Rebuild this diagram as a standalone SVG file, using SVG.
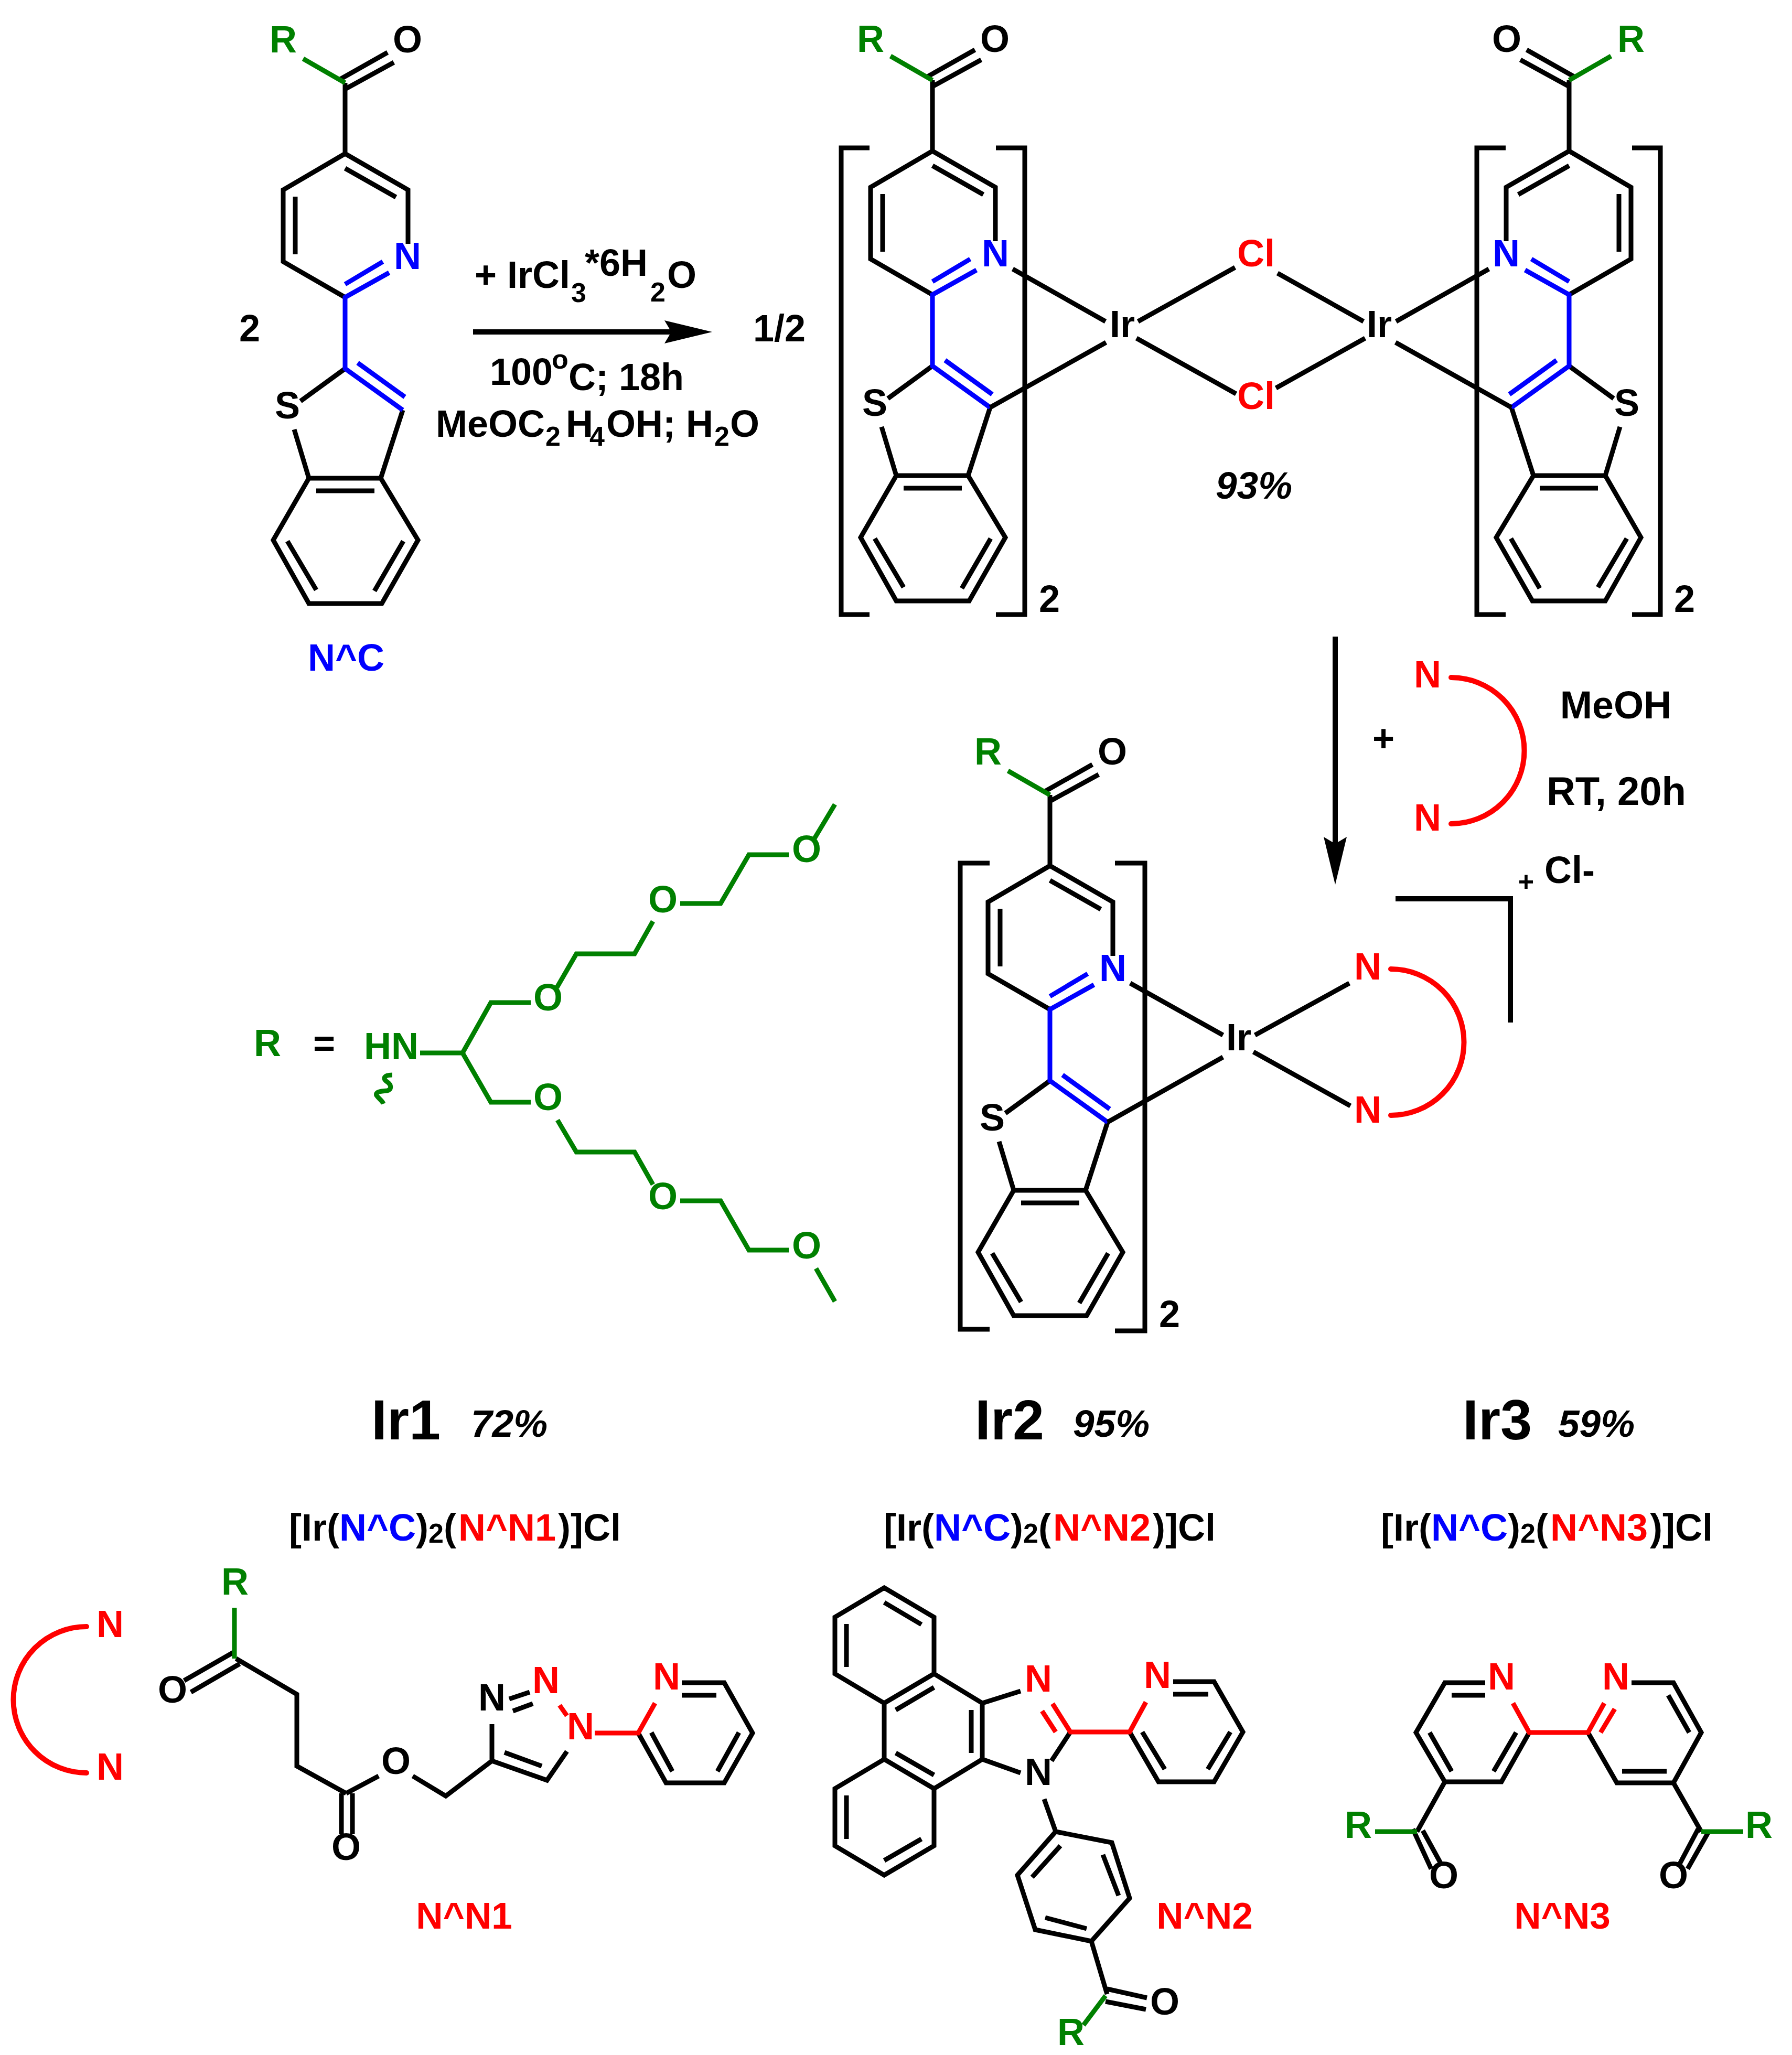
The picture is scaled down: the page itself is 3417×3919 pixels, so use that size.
<svg xmlns="http://www.w3.org/2000/svg" xmlns:xlink="http://www.w3.org/1999/xlink" width="3417" height="3919" viewBox="0 0 3417 3919">
<style>
text{font-family:"Liberation Sans",Arial,sans-serif;font-weight:bold;font-size:72px;fill:#000}
.m{text-anchor:middle}
.r{fill:#f00}.b{fill:#00f}.g{fill:#008000}
.s{font-size:52px}
.i{font-style:italic;font-size:73px}
.t{font-size:108px}
.n{font-size:71px}
path{fill:none;stroke:#000;stroke-width:9}
path.pr{stroke:#f00}path.pb{stroke:#00f}path.pg{stroke:#008000}
path.arc{stroke:#f00;stroke-width:10;stroke-linecap:round}
path.ar{stroke-width:10}
</style>
<defs>
<marker id="head" markerUnits="userSpaceOnUse" markerWidth="92" markerHeight="50" refX="13" refY="25" orient="auto"><polygon points="0,3 91,25 0,47 13,25" fill="#000"/></marker>
<g id="lig">
<path d="M1778 153V288M1898 460V357L1778 288L1660 357V494L1778 562M1778 316L1875 371M1683 370V480M1767 147L1859 95M1778 165L1871 114M1778 698L1693 760M1681 814L1709 907L1641 1025L1709 1146H1848L1917 1025L1846 907H1709M1846 907L1888 777M1723 931H1834M1668 1027L1723 1120M1889 1027L1834 1122"/>
<path class="pg" d="M1698 107L1778 153"/>
<path class="pb" d="M1862 515L1778 562V698L1888 777M1850 494L1778 537M1802 687L1892 752"/>
</g>
<g id="brk"><path d="M1658 282H1604V1172H1658M1899 282H1954V1172H1899"/></g>
</defs>
<rect width="3417" height="3919" fill="#fff"/>

<g id="connectors">
<path class="ar" d="M902 633H1280" marker-end="url(#head)"/>
<path class="ar" d="M2546 1214V1609" marker-end="url(#head)"/>
</g>

<g id="ligand-NC">
<use xlink:href="#lig" transform="translate(-1120,5)"/>
<text class="m g" x="540" y="100">R</text><text class="m" x="777" y="100">O</text>
<text class="m b" x="777" y="513">N</text><text class="m" x="548" y="798">S</text>
<text class="m b" x="660" y="1279">N^C</text>
</g>
<text id="coef-2" x="456" y="651">2</text>
<g id="cond1">
<text x="905" y="549">+ IrCl<tspan class="s" x="1089" y="576">3</tspan><tspan x="1115" y="526">*6H</tspan><tspan class="s" x="1240" y="575">2</tspan><tspan x="1272" y="549">O</tspan></text>
<text x="934" y="734">100<tspan class="s" x="1052" y="703">o</tspan><tspan x="1084" y="744">C; 18h</tspan></text>
<text x="831" y="833">MeOC<tspan class="s" x="1040" y="850">2</tspan><tspan x="1079" y="833">H</tspan><tspan class="s" x="1124" y="850">4</tspan><tspan x="1156" y="833">OH; H</tspan><tspan class="s" x="1362" y="850">2</tspan><tspan x="1392" y="833">O</tspan></text>
</g>
<text id="half" x="1436" y="651">1/2</text>

<g id="dimer-left">
<use xlink:href="#lig"/><use xlink:href="#brk"/>
<text class="m g" x="1660" y="99">R</text><text class="m" x="1897" y="99">O</text>
<text class="m b" x="1898" y="508">N</text><text class="m" x="1668" y="793">S</text>
<text x="1981" y="1167">2</text>
</g>
<g id="dimer-right">
<g transform="translate(4770,0) scale(-1,1)"><use xlink:href="#lig"/><use xlink:href="#brk"/></g>
<text class="m g" x="3110" y="99">R</text><text class="m" x="2873" y="99">O</text>
<text class="m b" x="2872" y="508">N</text><text class="m" x="3102" y="793">S</text>
<text x="3192" y="1167">2</text>
</g>
<g id="dimer-core">
<path d="M1931 513L2108 613M1888 777L2109 653M2170 613L2355 510M2167 645L2357 751M2436 521L2600 613M2433 740L2603 645M2839 513L2662 613M2882 777L2661 653"/>
<text class="m" x="2140" y="643">Ir</text><text class="m" x="2630" y="643">Ir</text>
<text class="m r" x="2395" y="508">Cl</text><text class="m r" x="2395" y="780">Cl</text>
<text class="i" x="2318" y="951">93%</text>
</g>

<g id="nn-reagent">
<text class="m" x="2638" y="1433">+</text>
<text class="m r" x="2722" y="1311">N</text><text class="m r" x="2722" y="1584">N</text>
<path class="arc" d="M2767 1292A139 139 0 0 1 2767 1571"/>
<text class="m" x="3081" y="1370" style="font-size:73.5px">MeOH</text><text class="m" x="3082" y="1535" style="font-size:76px">RT, 20h</text>
</g>

<g id="R-def">
<text class="m g" x="510" y="2014">R</text><text class="m" x="618" y="2014">=</text>
<text class="m g" x="746" y="2020">HN</text>
<path class="pg" d="M748 2050C732 2050 729 2057 738 2063C747 2069 747 2078 738 2080C726 2081 715 2082 718 2089C722 2095 729 2099 731 2105"/>
<path class="pg" d="M801 2008H882L936 1912H1012M1062 1883L1099 1819H1210L1245 1757M1297 1723H1374L1428 1630H1504M1553 1599L1592 1534M882 2008L936 2102H1012M1063 2136L1099 2197H1210L1245 2259M1297 2290H1374L1428 2384H1504M1556 2419L1592 2482"/>
<text class="m g" x="1045" y="1927">O</text><text class="m g" x="1264" y="1740">O</text><text class="m g" x="1538" y="1644">O</text>
<text class="m g" x="1045" y="2117">O</text><text class="m g" x="1264" y="2306">O</text><text class="m g" x="1538" y="2400">O</text>
</g>

<g id="complex">
<use xlink:href="#lig" transform="translate(224,1363)"/>
<path d="M1887 1646H1831V2535H1887M2126 1646H2183V2538H2126"/>
<text class="m g" x="1884" y="1458">R</text><text class="m" x="2121" y="1458">O</text>
<text class="m b" x="2122" y="1871">N</text><text class="m" x="1892" y="2156">S</text>
<text x="2210" y="2531">2</text>
<path d="M2155 1875L2332 1974M2112 2140L2332 2016M2393 1974L2573 1875M2390 2006L2575 2109"/>
<text class="m" x="2362" y="2003">Ir</text>
<text class="m r" x="2608" y="1868">N</text><text class="m r" x="2608" y="2141">N</text>
<path class="arc" d="M2652 1848A139 139 0 0 1 2652 2127"/>
<path class="ar" d="M2661 1714H2880V1950"/>
<text class="s m" x="2910" y="1699">+</text><text x="2945" y="1684">Cl-</text>
</g>

<g id="names">
<text class="t" x="708" y="2745">Ir1</text><text class="i" x="898" y="2740">72%</text>
<text class="t" x="1859" y="2745">Ir2</text><text class="i" x="2046" y="2740">95%</text>
<text class="t" x="2789" y="2745">Ir3</text><text class="i" x="2971" y="2740">59%</text>
<text x="551" y="2938">[Ir(<tspan class="b">N^C</tspan>)<tspan class="s" y="2942">2</tspan><tspan y="2938">(</tspan><tspan class="r" x="874">N^N1</tspan><tspan x="1064">)]Cl</tspan></text>
<text x="1685" y="2938">[Ir(<tspan class="b">N^C</tspan>)<tspan class="s" y="2942">2</tspan><tspan y="2938">(</tspan><tspan class="r" x="2008">N^N2</tspan><tspan x="2198">)]Cl</tspan></text>
<text x="2633" y="2938">[Ir(<tspan class="b">N^C</tspan>)<tspan class="s" y="2942">2</tspan><tspan y="2938">(</tspan><tspan class="r" x="2956">N^N3</tspan><tspan x="3146">)]Cl</tspan></text>
</g>

<g id="NN-generic">
<text class="m r" x="210" y="3122">N</text><text class="m r" x="210" y="3394">N</text>
<path class="arc" d="M165 3102A139 139 0 0 0 165 3381"/>
</g>

<g id="NN1">
<path d="M447 3150L351 3205M457 3173L364 3227M450 3163L566 3231V3368L660 3420M651 3420V3498M672 3420V3498M660 3420L722 3387M787 3387L850 3425L938 3358V3288M971 3240L1010 3227M978 3263L1016 3249M938 3358L1043 3395L1081 3340M962 3342L1033 3368M1300 3209H1381L1435 3305L1381 3400H1270L1217 3305M1300 3233H1366M1409 3304L1368 3378M1242 3304L1282 3378"/>
<path class="pg" d="M447 3066V3163"/>
<path class="pr" d="M1067 3252L1081 3272M1134 3305H1217L1249 3248"/>
<text class="m g" x="448" y="3041">R</text><text class="m" x="329" y="3247">O</text><text class="m" x="660" y="3547">O</text><text class="m" x="755" y="3383">O</text>
<text class="m" x="938" y="3262">N</text><text class="m r" x="1041" y="3229">N</text><text class="m r" x="1107" y="3317">N</text><text class="m r" x="1271" y="3222">N</text>
<text class="m r n" x="885" y="3678">N^N1</text>
</g>

<g id="NN2">
<path d="M1686 3028L1781 3084V3192L1686 3248L1592 3192V3084ZM1686 3056L1757 3098M1614 3097V3179M1781 3192L1873 3248V3355L1781 3411L1686 3355V3248M1781 3218L1708 3261M1852 3261V3343M1708 3343L1781 3385M1686 3355L1592 3411V3520L1686 3576L1781 3520V3411M1614 3424V3507M1686 3548L1757 3507M1873 3248L1946 3225M1873 3355L1946 3381M2041 3303L2005 3358M2237 3207H2315L2370 3303L2315 3398H2209L2154 3303M2237 3231H2304M2346 3303L2303 3374M2178 3303L2221 3374M1991 3431L2013 3493L2120 3514L2154 3620L2081 3702L1974 3680L1940 3576L2013 3493M2022 3520L1968 3580M2103 3537L2133 3615M1993 3657L2072 3678M2081 3702L2111 3803M2111 3793L2187 3810M2108 3817L2185 3832"/>
<path class="pr" d="M2007 3249L2041 3303H2154L2185 3246M1987 3263L2013 3303"/>
<path class="pg" d="M2108 3806L2066 3862"/>
<text class="m r" x="1980" y="3226">N</text><text class="m" x="1980" y="3404">N</text><text class="m r" x="2207" y="3219">N</text>
<text class="m" x="2221" y="3842">O</text><text class="m g" x="2042" y="3900">R</text>
<text class="m r n" x="2297" y="3678">N^N2</text>
</g>

<g id="NN3">
<path d="M2832 3209H2755L2700 3304L2755 3398H2863L2916 3304M2832 3233H2768M2726 3304L2768 3378M2891 3304L2848 3378M2755 3398L2702 3493M2694 3488L2729 3564M2713 3491L2747 3553M3111 3209H3191L3244 3304L3191 3400H3083L3028 3304M3181 3233L3221 3304M3093 3378H3178M3191 3400L3244 3493M3257 3495L3218 3564M3238 3488L3202 3556"/>
<path class="pr" d="M2885 3248L2916 3304H3028L3059 3248M3052 3304L3079 3259"/>
<path class="pg" d="M2622 3493H2702M3244 3493H3324"/>
<text class="m r" x="2863" y="3222">N</text><text class="m r" x="3081" y="3222">N</text>
<text class="m g" x="2590" y="3505">R</text><text class="m g" x="3354" y="3505">R</text>
<text class="m" x="2753" y="3601">O</text><text class="m" x="3191" y="3601">O</text>
<text class="m r n" x="2979" y="3678">N^N3</text>
</g>
</svg>
